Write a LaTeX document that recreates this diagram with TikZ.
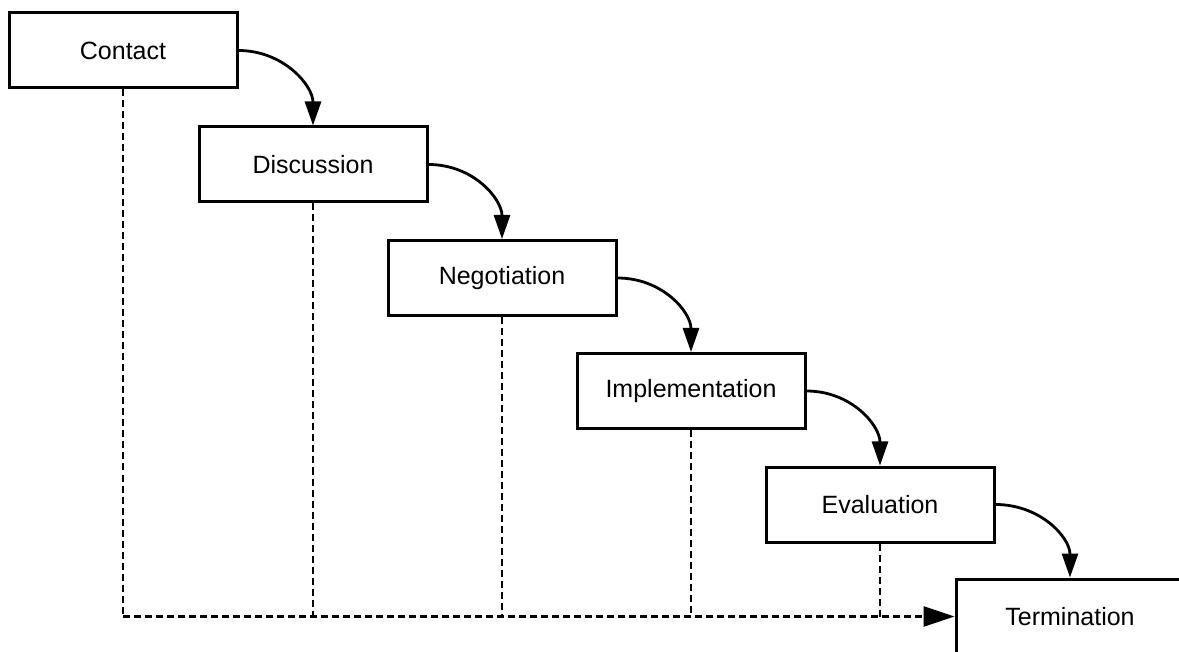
\documentclass[tikz,border=0pt]{standalone}
\usepackage{fontspec}
\setmainfont{Liberation Sans}
\usetikzlibrary{arrows.meta}
\begin{document}
\begin{tikzpicture}[x=1pt,y=-1pt,
  stagebox/.style={draw,line width=3pt,minimum width=228pt,minimum height=75pt,inner sep=0pt,font=\fontsize{25}{30}\selectfont},
  flowarrow/.style={line width=2.8pt,-{Triangle[length=24pt,width=16pt]}},
  backline/.style={line width=2.8pt,dash pattern=on 7pt off 4pt}]
\useasboundingbox (0,0) rectangle (1179,652);
\clip (0,0) rectangle (1179,652);
\node[stagebox] (c) at (123,50.5) {Contact};
\node[stagebox] (d) at (313,164.5) {Discussion};
\node[stagebox] (n) at (502,278) {Negotiation};
\node[stagebox] (i) at (691,391) {Implementation};
\node[stagebox] (e) at (880,504.5) {Evaluation};
\node[stagebox] (t) at (1070,616.5) {Termination};
\foreach \a/\b in {c/d,d/n,n/i,i/e,e/t}
  \draw[flowarrow] (\a.east) .. controls +(45,0) and +(0,-40) .. (\b.north);
\coordinate (cb) at (c.south |- t.west);
\draw[backline] (c.south) -- (cb);
\draw[backline,-{Triangle[length=31pt,width=20pt]}] (cb) -- (t.west);
\foreach \s in {d,n,i,e} \draw[backline] (\s.south) -- (\s.south |- t.west);
\end{tikzpicture}
\end{document}
